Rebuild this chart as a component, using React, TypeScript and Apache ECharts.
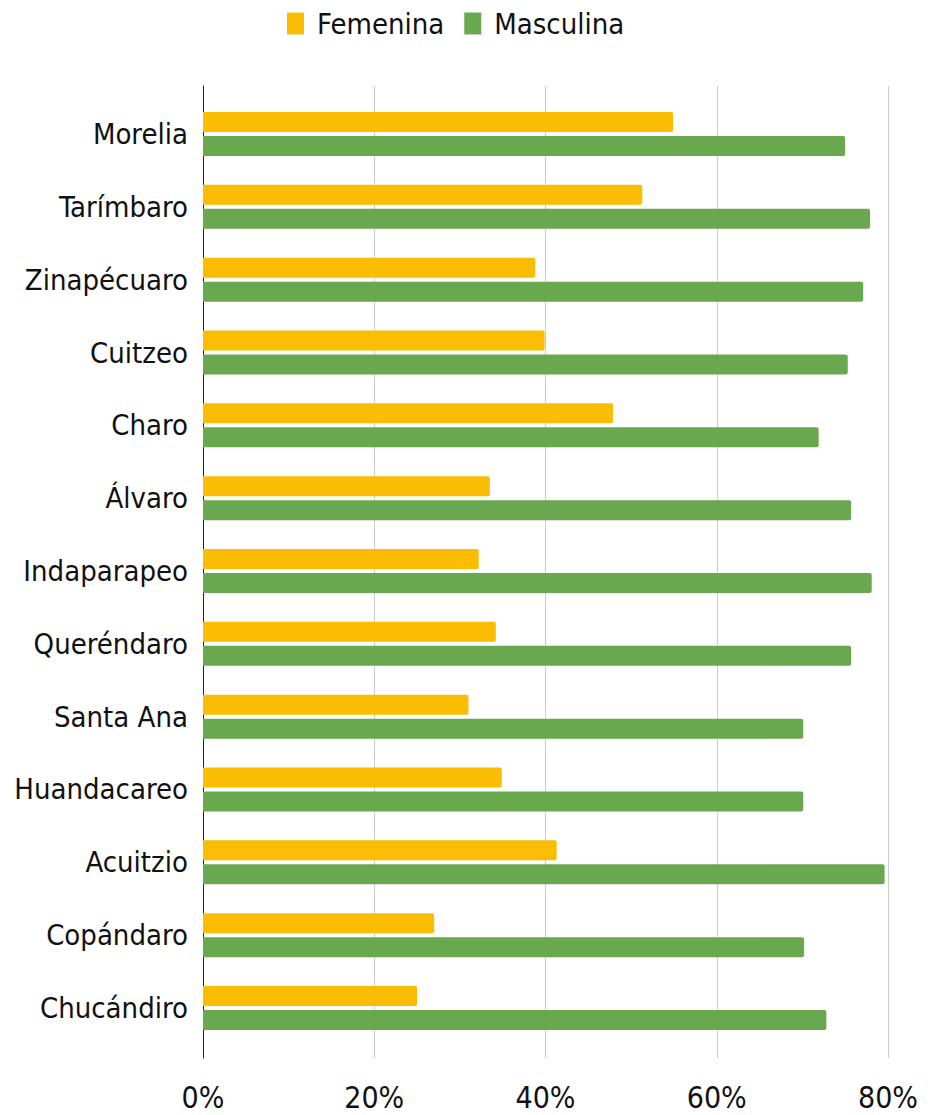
import React, { useEffect, useRef } from "react";
import * as echarts from "echarts";

const categories = [
  "Morelia",
  "Tarímbaro",
  "Zinapécuaro",
  "Cuitzeo",
  "Charo",
  "Álvaro",
  "Indaparapeo",
  "Queréndaro",
  "Santa Ana",
  "Huandacareo",
  "Acuitzio",
  "Copándaro",
  "Chucándiro",
];

const femenina = [54.9, 51.3, 38.8, 39.9, 47.9, 33.5, 32.2, 34.2, 31.0, 34.9, 41.3, 27.0, 25.0];
const masculina = [75.0, 77.9, 77.1, 75.3, 71.9, 75.7, 78.1, 75.7, 70.1, 70.1, 79.6, 70.2, 72.8];

const tickMin = 0;
const tickMax = 80;
const tickStep = 20;

const FONT = "'Liberation Sans Narrow', 'Arial Narrow', 'DejaVu Sans Condensed', sans-serif";

export default function App() {
  const ref = useRef<HTMLDivElement>(null);

  useEffect(() => {
    if (!ref.current) return;
    const chart = echarts.init(ref.current, undefined, { renderer: "svg" });
    chart.setOption({
      animation: false,
      backgroundColor: "#ffffff",
      legend: {
        left: 282,
        top: 4,
        itemWidth: 17,
        itemHeight: 22,
        itemGap: 20,
        icon: "rect",
        textStyle: {
          fontFamily: FONT,
          fontSize: 29,
          color: "#111",
          padding: [0, 0, 0, 8],
        },
        data: ["Femenina", "Masculina"],
      },
      grid: [
        { left: 203, right: 44, top: 97.6, bottom: 70.6, outerBoundsMode: "none", containLabel: false },
        { left: 203, right: 44, top: 86, bottom: 57, outerBoundsMode: "none", containLabel: false },
      ],
      xAxis: [
        {
          gridIndex: 0,
          type: "value",
          min: tickMin,
          max: tickMax,
          interval: tickStep,
          axisLine: { show: false },
          axisTick: { show: false },
          axisLabel: { show: false },
          splitLine: { show: false },
        },
        {
          gridIndex: 1,
          type: "value",
          min: tickMin,
          max: tickMax,
          interval: tickStep,
          axisLine: { show: false },
          axisTick: { show: false },
          splitLine: { show: true, lineStyle: { color: "#cccccc", width: 1 } },
          axisLabel: {
            formatter: "{value}%",
            fontFamily: FONT,
            fontSize: 30,
            color: "#111",
            margin: 24,
          },
        },
      ],
      yAxis: [
        {
          gridIndex: 0,
          type: "category",
          inverse: true,
          data: categories,
          axisLine: { show: false },
          axisTick: { show: false },
          splitLine: { show: false },
          axisLabel: {
            fontFamily: FONT,
            fontSize: 29,
            color: "#111",
            margin: 15,
          },
        },
        {
          gridIndex: 1,
          type: "value",
          min: 0,
          max: 1,
          axisLine: { show: true, lineStyle: { color: "#222222", width: 1 } },
          axisTick: { show: false },
          axisLabel: { show: false },
          splitLine: { show: false },
        },
      ],
      series: [
        {
          name: "Femenina",
          type: "bar",
          xAxisIndex: 0,
          yAxisIndex: 0,
          data: femenina,
          barWidth: 20,
          barGap: "20%",
          itemStyle: { color: "#FBBC04", borderRadius: [0, 2, 2, 0] },
        },
        {
          name: "Masculina",
          type: "bar",
          xAxisIndex: 0,
          yAxisIndex: 0,
          data: masculina,
          barWidth: 20,
          barGap: "20%",
          itemStyle: { color: "#6AA84F", borderRadius: [0, 2, 2, 0] },
        },
      ],
    });
    return () => chart.dispose();
  }, []);

  return (
    <div
      ref={ref}
      style={{ position: "fixed", left: 0, top: 0, width: 932, height: 1115 }}
    />
  );
}
